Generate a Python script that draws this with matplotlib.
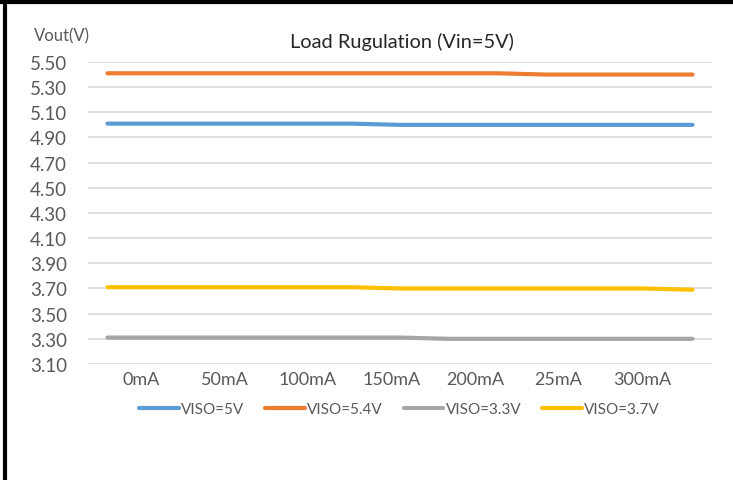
import matplotlib.pyplot as plt
import numpy as np

# load points (13 samples), only 7 labels shown on the axis
n_points = 13
x_labels = ["0mA", "50mA", "100mA", "150mA", "200mA", "25mA", "300mA"]

viso_5v = [5.01] * 6 + [5.00] * 7
viso_54v = [5.41] * 9 + [5.40] * 4
viso_33v = [3.31] * 7 + [3.30] * 6
viso_37v = [3.71] * 6 + [3.70] * 6 + [3.69]

series = [
    ("VISO=5V", viso_5v, "#5B9BD5"),
    ("VISO=5.4V", viso_54v, "#ED7D31"),
    ("VISO=3.3V", viso_33v, "#A5A5A5"),
    ("VISO=3.7V", viso_37v, "#FFC000"),
]

yticks = np.arange(3.10, 5.51, 0.20)

plt.rcParams['font.family'] = ['Lato', 'DejaVu Sans']
text_col = "#595959"


def main():
    fig = plt.figure(figsize=(7.33, 4.81), dpi=100)
    ax = fig.add_axes([0.12, 0.2412, 0.8514, 0.6279])

    x = np.arange(n_points)
    for name, vals, col in series:
        ax.plot(x, vals, color=col, lw=3, solid_capstyle='round', label=name)

    ax.set_xlim(-0.4, n_points - 0.6)
    ax.set_ylim(3.10, 5.50)
    ax.set_yticks(yticks)
    ax.set_yticklabels([f"{v:.2f}" for v in yticks])
    # labels sit on their own spacing, not on the data points
    ax.set_xticks(0.687 + 1.712 * np.arange(len(x_labels)))
    ax.set_xticklabels(x_labels)
    ax.tick_params(axis='both', length=0, colors=text_col)
    ax.tick_params(axis='y', pad=15, labelsize=13.5)
    ax.tick_params(axis='x', pad=5, labelsize=13)
    ax.grid(axis='y', color="#D9D9D9", lw=1.2)
    ax.set_axisbelow(True)
    for s in ax.spines.values():
        s.set_visible(False)

    fig.text(0.548, 0.912, "Load Rugulation (Vin=5V)", ha='center', va='center',
             fontsize=14.4, color="#262626")
    fig.text(0.047, 0.925, "Vout(V)", ha='left', va='center', fontsize=12, color=text_col)

    fig.legend(loc='center', bbox_to_anchor=(0.545, 0.147), ncol=4, frameon=False,
               fontsize=11, labelcolor=text_col, handlelength=2.6,
               handletextpad=0.15, columnspacing=1.35)

    # screenshot frame: top and left black edges
    fig.add_artist(plt.Line2D([0, 1], [0.9935, 0.9935], color='black', lw=3,
                              transform=fig.transFigure))
    fig.add_artist(plt.Line2D([0.0068, 0.0068], [0, 1], color='black', lw=3,
                              transform=fig.transFigure))

    fig.savefig("out.png", dpi=100)


if __name__ == "__main__":
    main()
